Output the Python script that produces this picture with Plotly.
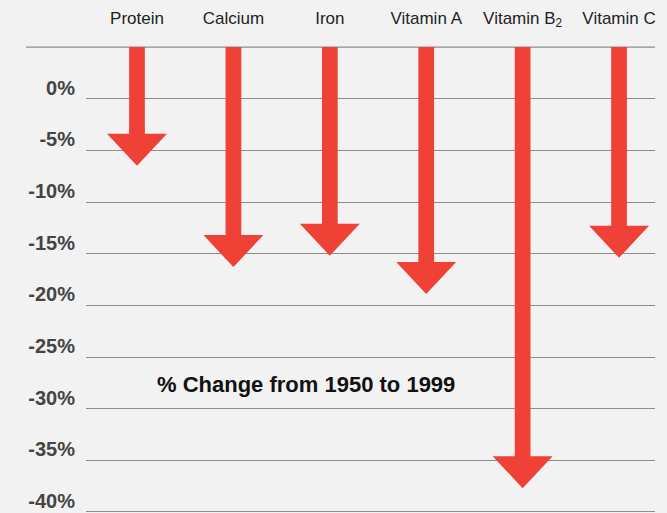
import plotly.graph_objects as go

# ---- data ----
nutrients = ["Protein", "Calcium", "Iron", "Vitamin A", "Vitamin B<sub>2</sub>", "Vitamin C"]
pct_change = [-6.5, -16.3, -15.2, -18.9, -37.7, -15.4]
tick_values = [0, -5, -10, -15, -20, -25, -30, -35, -40]
tick_labels = ["0%", "-5%", "-10%", "-15%", "-20%", "-25%", "-30%", "-35%", "-40%"]
title_text = "% Change from 1950 to 1999"

# ---- style ----
RED = "#EF4136"
BG = "#F2F2F2"
GRID = "#8C8C8C"
FONT = "Liberation Sans, Arial, Helvetica, sans-serif"
START = 5            # arrows start at the top rule
SHAFT_HALF = 0.0815  # x-units
HEAD_HALF = 0.311    # x-units
HEAD_LEN = 3.1       # y-units

xs, ys = [], []
for i, v in enumerate(pct_change):
    pts = [
        (i - SHAFT_HALF, START), (i + SHAFT_HALF, START),
        (i + SHAFT_HALF, v + HEAD_LEN), (i + HEAD_HALF, v + HEAD_LEN),
        (i, v),
        (i - HEAD_HALF, v + HEAD_LEN), (i - SHAFT_HALF, v + HEAD_LEN),
        (i - SHAFT_HALF, START),
    ]
    xs += [p[0] for p in pts] + [None]
    ys += [p[1] for p in pts] + [None]

fig = go.Figure()
fig.add_trace(go.Scatter(
    x=xs, y=ys, mode="lines", fill="toself", fillcolor=RED,
    line=dict(width=0, color=RED), hoverinfo="skip", showlegend=False,
))

fig.update_layout(
    width=667, height=513,
    margin=dict(l=86, r=12, t=45, b=0),
    paper_bgcolor=BG, plot_bgcolor=BG,
    showlegend=False,
    font=dict(family=FONT),
    xaxis=dict(
        range=[-0.529, 5.373], side="top",
        tickmode="array", tickvals=list(range(len(nutrients))), ticktext=nutrients,
        showgrid=False, zeroline=False, showline=False, ticks="",
        tickfont=dict(size=17, color="#222222"),
        ticklabelstandoff=17, fixedrange=True,
    ),
    yaxis=dict(
        range=[-40.1, 5.2],
        tickmode="array", tickvals=tick_values, ticktext=tick_labels,
        showgrid=True, gridcolor=GRID, gridwidth=1.2,
        zeroline=False, showline=False, ticks="",
        tickfont=dict(size=20, color="#444444", family=FONT, weight="bold"),
        ticklabelshift=-11, ticklabelstandoff=10, fixedrange=True,
    ),
    shapes=[dict(
        type="line", xref="paper", yref="y",
        x0=-0.1054, x1=1, y0=START, y1=START,
        line=dict(color=GRID, width=1.2), layer="below",
    )],
    annotations=[dict(
        text="<b>" + title_text + "</b>", xref="paper", yref="paper",
        x=0.3866, y=0.2756, xanchor="center", yanchor="middle",
        showarrow=False, font=dict(size=22, color="#111111", family=FONT),
    )],
)

fig.write_html(
    "out.html",
    config={"displayModeBar": False},
    post_script="document.body.style.margin='0';document.body.style.background='#F2F2F2';",
)
